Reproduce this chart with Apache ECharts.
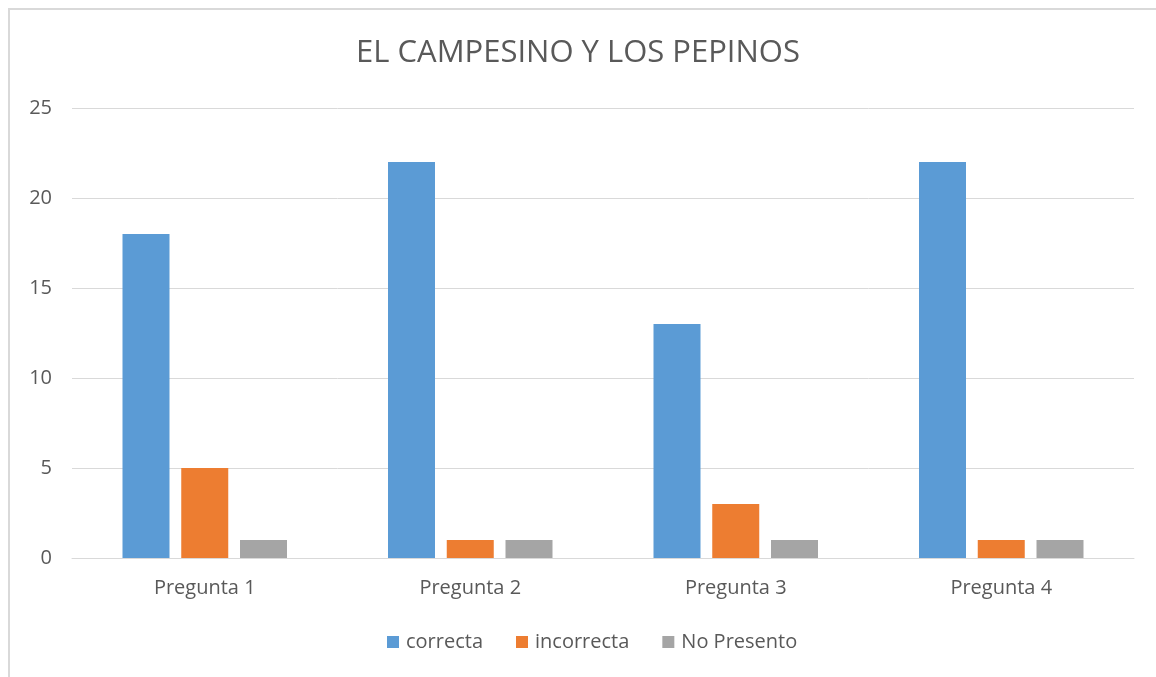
<!DOCTYPE html>
<html>
<head>
<meta charset="utf-8">
<script src="https://cdn.jsdelivr.net/npm/echarts@6/dist/echarts.min.js"></script>
<style>
  html, body { margin: 0; padding: 0; background: #fff; }
  #frame {
    position: absolute; left: 8px; top: 8px; width: 1200px; height: 700px;
    border-left: 2px solid #d9d9d9; border-top: 2px solid #d9d9d9;
  }
  #chart { position: absolute; left: 0; top: 0; width: 1156px; height: 677px; }
</style>
</head>
<body>
<div id="frame"></div>
<div id="chart"></div>
<script>
const categories = ['Pregunta 1', 'Pregunta 2', 'Pregunta 3', 'Pregunta 4'];
const correcta = [18, 22, 13, 22];
const incorrecta = [5, 1, 3, 1];
const noPresento = [1, 1, 1, 1];

const font = '"Open Sans", "Noto Sans", sans-serif';

const chart = echarts.init(document.getElementById('chart'));
chart.setOption({
  animation: false,
  color: ['#5B9BD5', '#ED7D31', '#A5A5A5'],
  title: {
    text: 'EL CAMPESINO Y LOS PEPINOS',
    left: 'center',
    top: 33,
    textStyle: { fontFamily: font, fontSize: 31, fontWeight: 'normal', color: '#595959' }
  },
  legend: {
    bottom: 20,
    left: 382,
    itemWidth: 12,
    itemHeight: 12,
    itemGap: 33,
    icon: 'rect',
    textStyle: { fontFamily: font, fontSize: 20, color: '#595959', padding: [0, 0, 0, 2] },
    data: ['correcta', 'incorrecta', 'No Presento']
  },
  grid: { left: 72, right: 22, top: 108, bottom: 119, containLabel: false },
  xAxis: {
    type: 'category',
    data: categories,
    axisLine: { lineStyle: { color: '#d9d9d9', width: 1 } },
    axisTick: { show: false },
    axisLabel: { fontFamily: font, fontSize: 20, color: '#595959', margin: 20 }
  },
  yAxis: {
    type: 'value',
    min: 0,
    max: 25,
    interval: 5,
    axisLine: { show: false },
    axisTick: { show: false },
    splitLine: { lineStyle: { color: '#d9d9d9', width: 1 } },
    axisLabel: { fontFamily: font, fontSize: 20, color: '#595959', margin: 20 }
  },
  series: [
    { name: 'correcta', type: 'bar', data: correcta, barWidth: 47, barGap: '25%' },
    { name: 'incorrecta', type: 'bar', data: incorrecta, barWidth: 47, barGap: '25%' },
    { name: 'No Presento', type: 'bar', data: noPresento, barWidth: 47, barGap: '25%' }
  ]
});
</script>
</body>
</html>
